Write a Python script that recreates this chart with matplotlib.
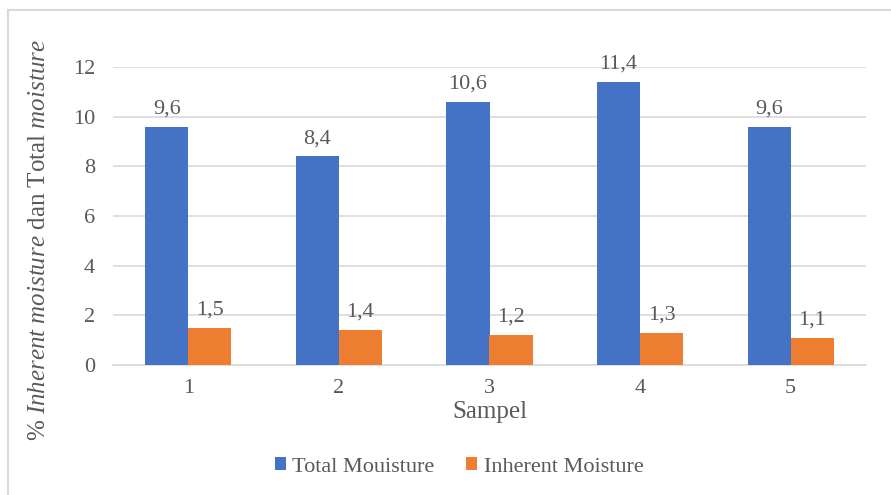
import numpy as np
import matplotlib.pyplot as plt
from matplotlib.lines import Line2D

plt.rcParams['font.family'] = ['Liberation Serif', 'DejaVu Serif']
plt.rcParams['mathtext.fontset'] = 'custom'
plt.rcParams['mathtext.rm'] = 'Liberation Serif'
plt.rcParams['mathtext.it'] = 'Liberation Serif:italic'

# data
samples = ['1', '2', '3', '4', '5']
total_moisture = [9.6, 8.4, 10.6, 11.4, 9.6]
inherent_moisture = [1.5, 1.4, 1.2, 1.3, 1.1]
series_names = ['Total Mouisture', 'Inherent Moisture']
colors = ['#4472C4', '#ED7D31']
text_col = '#595959'

fig = plt.figure(figsize=(8.91, 4.95), dpi=100)
ax = fig.add_axes([113 / 891, 1 - 365 / 495, 753 / 891, 298 / 495])

x = np.arange(len(samples))
w = 0.286
b1 = ax.bar(x - w / 2, total_moisture, w, color=colors[0], label=series_names[0], zorder=3)
b2 = ax.bar(x + w / 2, inherent_moisture, w, color=colors[1], label=series_names[1], zorder=3)

for bars, vals in [(b1, total_moisture), (b2, inherent_moisture)]:
    for r, v in zip(bars, vals):
        ax.annotate(f'{v:.1f}'.replace('.', ','), (r.get_x() + r.get_width() / 2, v),
                    xytext=(0, 6), textcoords='offset points', ha='center', va='bottom',
                    fontsize=16, color=text_col)

ax.set_xlim(-0.5, len(samples) - 0.5)
ax.set_ylim(0, 12)
ax.set_yticks(range(0, 13, 2))
ax.set_xticks(x)
ax.set_xticklabels(samples)
ax.tick_params(length=0, labelsize=16, colors=text_col)
ax.tick_params(axis='x', pad=10)
ax.tick_params(axis='y', pad=13)
ax.grid(axis='y', color='#d9d9d9', linewidth=1.2, zorder=0)
for s in ['top', 'right', 'left']:
    ax.spines[s].set_visible(False)
ax.spines['bottom'].set_color('#d9d9d9')
ax.spines['bottom'].set_linewidth(1.2)

ax.set_xlabel('Sampel', fontsize=18, color=text_col, labelpad=2)
ax.set_ylabel(r'% $\mathit{Inherent\ moisture}$ dan Total $\mathit{moisture}$',
              fontsize=18, color=text_col)
ax.yaxis.set_label_coords(-(113 - 50) / 753, (365 - 240) / 298)

ax.legend(loc='center', bbox_to_anchor=(459 / 891, 1 - 467 / 495),
          bbox_transform=fig.transFigure, ncol=2, frameon=False, fontsize=16,
          handlelength=0.5, handleheight=0.5, handletextpad=0.3, columnspacing=1.4,
          labelcolor=text_col)

# outer chart border (top and left visible)
fig.add_artist(Line2D([8 / 891, 8 / 891], [0, 1 - 10 / 495], transform=fig.transFigure,
                      color='#d9d9d9', linewidth=1.5))
fig.add_artist(Line2D([8 / 891, 1], [1 - 10 / 495, 1 - 10 / 495], transform=fig.transFigure,
                      color='#d9d9d9', linewidth=1.5))

fig.savefig('out.png', dpi=100)
